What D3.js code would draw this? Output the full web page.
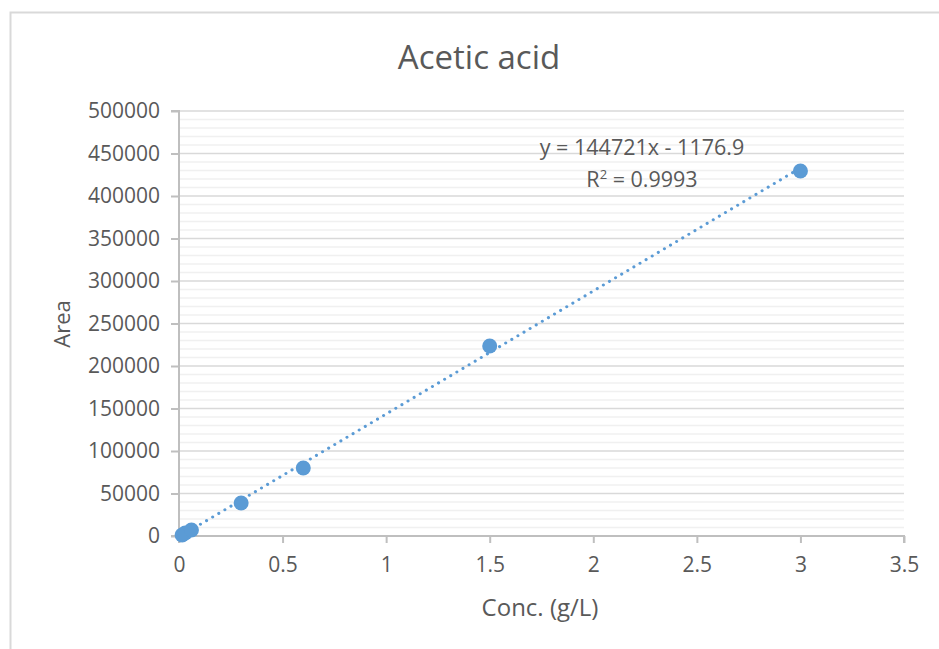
<!DOCTYPE html>
<html><head><meta charset="utf-8">
<script src="https://cdn.jsdelivr.net/npm/d3@7"></script>
<style>
html,body{margin:0;padding:0;background:#fff;}
svg{display:block;}
text{font-family:"Open Sans","Noto Sans",sans-serif;fill:#595959;}
</style></head>
<body>
<svg id="chart" width="939" height="649"></svg>
<script>
const title = "Acetic acid";
const xTitle = "Conc. (g/L)";
const yTitle = "Area";
const concentrations = [0.015, 0.03, 0.06, 0.3, 0.6, 1.5, 3];
const areas = [1200, 3500, 7000, 38800, 80000, 223500, 429400];
const xTicks = [0, 0.5, 1, 1.5, 2, 2.5, 3, 3.5];
const yTicks = [0, 50000, 100000, 150000, 200000, 250000, 300000, 350000, 400000, 450000, 500000];
const slope = 144721, intercept = -1176.9;
const eqLabel = "y = 144721x - 1176.9";
const r2Label = "0.9993";

const svg = d3.select("#chart");
const mLeft = 179, mRight = 904, mTop = 111, mBottom = 536;

// chart border (cropped at right/bottom)
svg.append("rect").attr("x", 10.5).attr("y", 12.5).attr("width", 1000).attr("height", 1000)
  .attr("fill", "#fff").attr("stroke", "#d9d9d9").attr("stroke-width", 2);

const x = d3.scaleLinear().domain([0, 3.5]).range([mLeft, mRight]);
const y = d3.scaleLinear().domain([0, 500000]).range([mBottom, mTop]);

// minor gridlines
const minor = d3.range(0, 500001, 10000).filter(v => v % 50000 !== 0);
svg.append("g").selectAll("line").data(minor).join("line")
  .attr("x1", mLeft).attr("x2", mRight).attr("y1", d => y(d)).attr("y2", d => y(d))
  .attr("stroke", "#f0f0f0").attr("stroke-width", 1.5);
// major gridlines
svg.append("g").selectAll("line").data(yTicks.filter(v => v > 0)).join("line")
  .attr("x1", mLeft).attr("x2", mRight).attr("y1", d => y(d)).attr("y2", d => y(d))
  .attr("stroke", "#d9d9d9").attr("stroke-width", 1.5);

// axes
const yAxis = svg.append("g").attr("transform", `translate(${mLeft},0)`)
  .call(d3.axisLeft(y).tickValues(yTicks).tickSize(8).tickPadding(11).tickFormat(d3.format("d")));
const xAxis = svg.append("g").attr("transform", `translate(0,${mBottom})`)
  .call(d3.axisBottom(x).tickValues(xTicks).tickSize(7).tickPadding(14).tickFormat(d => String(d)));
[yAxis, xAxis].forEach(g => {
  g.select(".domain").attr("stroke", "#bfbfbf").attr("stroke-width", 2);
  g.selectAll(".tick line").attr("stroke", "#bfbfbf").attr("stroke-width", 2);
  g.selectAll(".tick text").attr("fill", "#595959").style("font-size", "21px")
    .style("font-family", '"Open Sans","Noto Sans",sans-serif');
});
xAxis.select(".domain").attr("d", `M${mLeft},7V0H${mRight}V7`);
yAxis.select(".domain").attr("d", `M-8,${mTop}H0V${mBottom}H-8`);

// trendline
const xs = d3.extent(concentrations);
svg.append("line")
  .attr("x1", x(xs[0])).attr("y1", y(slope * xs[0] + intercept))
  .attr("x2", x(xs[1])).attr("y2", y(slope * xs[1] + intercept))
  .attr("stroke", "#5B9BD5").attr("stroke-width", 3)
  .attr("stroke-linecap", "round").attr("stroke-dasharray", "0.1,7");

// points
svg.append("g").selectAll("circle").data(concentrations).join("circle")
  .attr("cx", d => x(d)).attr("cy", (d, i) => y(areas[i])).attr("r", 7.5)
  .attr("fill", "#5B9BD5");

// titles
svg.append("text").attr("x", 479).attr("y", 69).attr("text-anchor", "middle")
  .style("font-size", "33px").text(title);
svg.append("text").attr("x", 540).attr("y", 616).attr("text-anchor", "middle")
  .style("font-size", "24px").text(xTitle);
svg.append("text").attr("transform", "translate(70,324) rotate(-90)").attr("text-anchor", "middle")
  .style("font-size", "22px").text(yTitle);

// equation labels
svg.append("text").attr("x", 642).attr("y", 155).attr("text-anchor", "middle")
  .style("font-size", "21.5px").text(eqLabel);
const r2 = svg.append("text").attr("x", 642).attr("y", 187).attr("text-anchor", "middle")
  .style("font-size", "21.5px");
r2.append("tspan").text("R");
r2.append("tspan").attr("dy", -8).style("font-size", "13px").text("2");
r2.append("tspan").attr("dy", 8).text(" = " + r2Label);
</script>
</body></html>
